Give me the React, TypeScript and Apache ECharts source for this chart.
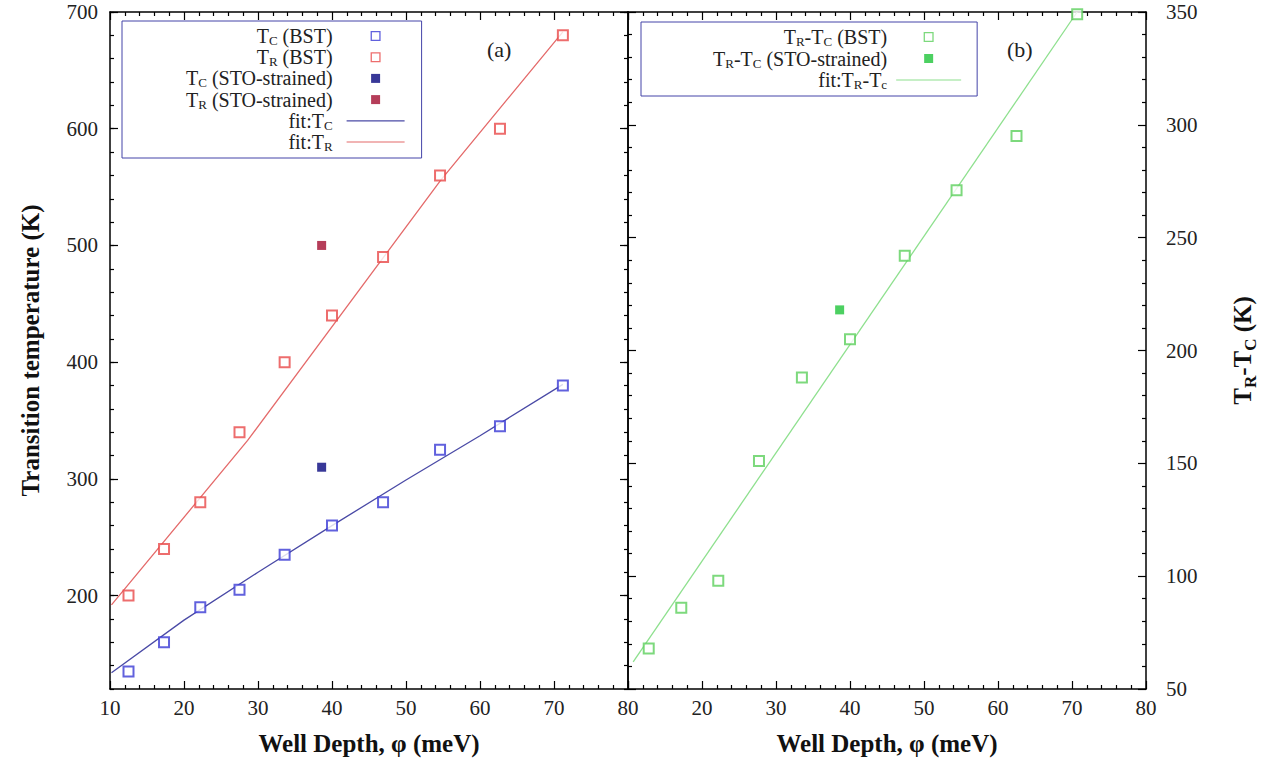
import React, { useEffect, useRef } from 'react';
import * as echarts from 'echarts';

const FONT = '"Liberation Serif", "Times New Roman", serif';

// Panel (a) data
const xBST = [12.5, 17.3, 22.2, 27.5, 33.6, 40.0, 46.9, 54.6, 62.7, 71.2];
const tcBST = [135, 160, 190, 205, 235, 260, 280, 325, 345, 380];
const trBST = [200, 240, 280, 340, 400, 440, 490, 560, 600, 680];
const xSTO = [38.6];
const tcSTO = [310];
const trSTO = [500];
const fitTcX = [10.2, 20, 30, 40, 50, 60, 71.2];
const fitTcY = [134, 179, 220, 260, 299, 337, 381];
const fitTrX = [10.2, 28.6, 54.7, 71.2];
const fitTrY = [192, 333, 556, 683];

// Panel (b) data
const xDiff = [12.8, 17.2, 22.2, 27.7, 33.5, 40.0, 47.4, 54.4, 62.5, 70.7];
const diffBST = [68, 86, 98, 151, 188, 205, 242, 271, 295, 349];
const xDiffSTO = [38.6];
const diffSTO = [218];
const fitDiffX = [10.7, 70.7];
const fitDiffY = [62, 350];

// Tick labels
const tempMajorTicks = [200, 300, 400, 500, 600, 700];

const zip = (xs: number[], ys: number[]) => xs.map((x, i) => [x, ys[i]]);

const sub = (s: string) =>
  s
    .split(/_(\w)/)
    .map((part, i) => (i % 2 ? `{s|${part}}` : part ? `{n|${part}}` : ''))
    .join('');

const legendRich = {
  n: { fontFamily: FONT, fontSize: 20, color: '#222', lineHeight: 20, verticalAlign: 'top' as const },
  s: { fontFamily: FONT, fontSize: 13, color: '#222', lineHeight: 13, padding: [8, 0, 0, 0], verticalAlign: 'top' as const },
};
const titleRich = {
  n: { fontFamily: FONT, fontSize: 25, fontWeight: 'bold' as const, color: '#111', lineHeight: 25, verticalAlign: 'top' as const },
  s: { fontFamily: FONT, fontSize: 17, fontWeight: 'bold' as const, color: '#111', lineHeight: 17, padding: [12, 0, 0, 0], verticalAlign: 'top' as const },
};

// legend icons (hollow square, filled square, line), padded to the icon box width
const hollowIcon = (w: number) => {
  const a = (w - 10) / 2;
  return `path://M${-a},0L${-a},0M${10 + a},10L${10 + a},10M0,0H10V10H0ZM1.3,1.3V8.7H8.7V1.3Z`;
};
const filledIcon = (w: number) => {
  const a = (w - 10) / 2;
  return `path://M${-a},0L${-a},0M${10 + a},10L${10 + a},10M0.5,0.5H9.5V9.5H0.5Z`;
};
const lineIcon = (w: number) => `path://M0,0L0,0M${w},10L${w},10M0,4.4H${w}V5.6H0Z`;

const BLACK = '#000';
const labelStyle = { fontFamily: FONT, fontSize: 21, color: '#222' };
const axisNameStyle = { fontFamily: FONT, fontSize: 25, fontWeight: 'bold' as const, color: '#111' };

export default function App() {
  const ref = useRef<HTMLDivElement>(null);
  useEffect(() => {
    if (!ref.current) return;
    const chart = echarts.init(ref.current, null, { renderer: 'svg' });
    const tick = { show: true, inside: true, length: 8, lineStyle: { color: BLACK, width: 1.2 } };
    const minor = { show: true, splitNumber: 5, length: 4, lineStyle: { color: BLACK, width: 1.2 } };
    const xBase = (gridIndex: number, showLabels: boolean, hideFirst: boolean) => ({
      type: 'value',
      gridIndex,
      min: 10,
      max: 80,
      interval: 10,
      position: 'bottom',
      splitLine: { show: false },
      axisLine: { show: true, onZero: false, lineStyle: { color: BLACK, width: 1.5 } },
      axisTick: tick,
      minorTick: minor,
      axisLabel: {
        show: showLabels,
        ...labelStyle,
        margin: 8,
        formatter: (v: number) => (hideFirst && v === 10 ? '' : String(v)),
      },
      name: showLabels ? 'Well Depth, φ (meV)' : '',
      nameLocation: 'middle',
      nameGap: 42,
      nameTextStyle: axisNameStyle,
    });
    const xTop = (gridIndex: number) => ({
      ...xBase(gridIndex, false, false),
      position: 'top',
      name: '',
    });
    const tempAxis = (position: string, major: boolean, labels: boolean) => ({
      type: 'value',
      gridIndex: 0,
      min: 120,
      max: 700,
      ...(major ? {} : { interval: 20 }),
      position,
      splitLine: { show: false },
      axisLine: major ? { show: true, onZero: false, lineStyle: { color: BLACK, width: 1.5 } } : { show: false },
      axisTick: major ? { ...tick, customValues: tempMajorTicks } : { ...tick, length: 4 },
      axisLabel: labels ? { ...labelStyle, margin: 12, customValues: tempMajorTicks } : { show: false },
      ...(labels
        ? { name: 'Transition temperature (K)', nameLocation: 'middle', nameGap: 67, nameTextStyle: axisNameStyle }
        : {}),
    });
    const diffAxis = (position: string, labels: boolean) => ({
      type: 'value',
      gridIndex: 1,
      min: 50,
      max: 350,
      interval: 50,
      position,
      splitLine: { show: false },
      axisLine: { show: true, onZero: false, lineStyle: { color: BLACK, width: 1.5 } },
      axisTick: tick,
      minorTick: minor,
      axisLabel: labels ? { ...labelStyle, margin: 20 } : { show: false },
      ...(labels
        ? {
            name: sub('T_R-T_C (K)'),
            nameLocation: 'middle',
            nameGap: 84,
            nameRotate: 90,
            nameTextStyle: { ...axisNameStyle, rich: titleRich },
          }
        : {}),
    });

    const legendCommon = {
      orient: 'vertical',
      align: 'right',
      itemHeight: 10,
      borderColor: '#4444a8',
      borderWidth: 1,
      selectedMode: false,
      itemStyle: { borderWidth: 0 },
      formatter: (name: string) => sub(name),
    };

    const option: any = {
      animation: false,
      backgroundColor: '#fff',
      title: [
        { text: '(a)', left: 482, top: 33, textStyle: { fontFamily: FONT, fontSize: 22, fontWeight: 'normal', color: '#222' } },
        { text: '(b)', left: 1002, top: 33, textStyle: { fontFamily: FONT, fontSize: 22, fontWeight: 'normal', color: '#222' } },
      ],
      grid: [
        { left: 110, right: 633, top: 12, bottom: 74, show: false },
        { left: 628, right: 115, top: 12, bottom: 74, show: false },
      ],
      xAxis: [xBase(0, true, false), xTop(0), xBase(1, true, true), xTop(1)],
      yAxis: [
        tempAxis('left', true, true),
        tempAxis('left', false, false),
        tempAxis('right', true, false),
        tempAxis('right', false, false),
        diffAxis('left', false),
        diffAxis('right', true),
      ],
      legend: [
        {
          ...legendCommon,
          left: 122,
          top: 21,
          padding: [5, 17, 5, 64],
          itemGap: 0.2,
          itemWidth: 58,
          textStyle: { fontFamily: FONT, fontSize: 20, color: '#222', padding: [0, 9, 0, 0], rich: legendRich },
          data: [
            { name: 'T_C (BST)', icon: hollowIcon(58) },
            { name: 'T_R (BST)', icon: hollowIcon(58) },
            { name: 'T_C (STO-strained)', icon: filledIcon(58) },
            { name: 'T_R (STO-strained)', icon: filledIcon(58) },
            { name: 'fit:T_C', icon: lineIcon(58) },
            { name: 'fit:T_R', icon: lineIcon(58) },
          ],
        },
        {
          ...legendCommon,
          left: 641,
          top: 22,
          padding: [5, 16, 5, 72],
          itemGap: 0.5,
          itemWidth: 65,
          textStyle: { fontFamily: FONT, fontSize: 20, color: '#222', padding: [0, 4, 0, 0], rich: legendRich },
          data: [
            { name: 'T_R-T_C (BST)', icon: hollowIcon(65) },
            { name: 'T_R-T_C (STO-strained)', icon: filledIcon(65) },
            { name: 'fit:T_R-T_c', icon: lineIcon(65) },
          ],
        },
      ],
      series: [
        {
          name: 'T_C (BST)',
          type: 'scatter',
          xAxisIndex: 0,
          yAxisIndex: 0,
          symbol: 'emptyRect',
          symbolSize: 10,
          itemStyle: { color: '#3a3ad4', borderWidth: 1.2 },
          data: zip(xBST, tcBST),
          z: 5,
        },
        {
          name: 'T_R (BST)',
          type: 'scatter',
          xAxisIndex: 0,
          yAxisIndex: 0,
          symbol: 'emptyRect',
          symbolSize: 10,
          itemStyle: { color: '#e84848', borderWidth: 1.2 },
          data: zip(xBST, trBST),
          z: 5,
        },
        {
          name: 'T_C (STO-strained)',
          type: 'scatter',
          xAxisIndex: 0,
          yAxisIndex: 0,
          symbol: 'rect',
          symbolSize: 9,
          itemStyle: { color: '#06067e' },
          data: zip(xSTO, tcSTO),
          z: 5,
        },
        {
          name: 'T_R (STO-strained)',
          type: 'scatter',
          xAxisIndex: 0,
          yAxisIndex: 0,
          symbol: 'rect',
          symbolSize: 9,
          itemStyle: { color: '#a30c30' },
          data: zip(xSTO, trSTO),
          z: 5,
        },
        {
          name: 'fit:T_C',
          type: 'line',
          xAxisIndex: 0,
          yAxisIndex: 0,
          symbol: 'none',
          showSymbol: false,
          itemStyle: { color: '#4a4aa6' },
          lineStyle: { color: '#4a4aa6', width: 1.3 },
          data: zip(fitTcX, fitTcY),
        },
        {
          name: 'fit:T_R',
          type: 'line',
          xAxisIndex: 0,
          yAxisIndex: 0,
          symbol: 'none',
          showSymbol: false,
          itemStyle: { color: '#e46a6a' },
          lineStyle: { color: '#e46a6a', width: 1.3 },
          data: zip(fitTrX, fitTrY),
        },
        {
          name: 'T_R-T_C (BST)',
          type: 'scatter',
          xAxisIndex: 2,
          yAxisIndex: 5,
          symbol: 'emptyRect',
          symbolSize: 10,
          itemStyle: { color: '#5ccf5c', borderWidth: 1.2 },
          data: zip(xDiff, diffBST),
          z: 5,
        },
        {
          name: 'T_R-T_C (STO-strained)',
          type: 'scatter',
          xAxisIndex: 2,
          yAxisIndex: 5,
          symbol: 'rect',
          symbolSize: 9,
          itemStyle: { color: '#1fc43a' },
          data: zip(xDiffSTO, diffSTO),
          z: 5,
        },
        {
          name: 'fit:T_R-T_c',
          type: 'line',
          xAxisIndex: 2,
          yAxisIndex: 5,
          symbol: 'none',
          showSymbol: false,
          itemStyle: { color: '#8ee08e' },
          lineStyle: { color: '#8ee08e', width: 1.3 },
          data: zip(fitDiffX, fitDiffY),
        },
      ],
    };
    chart.setOption(option);
    return () => chart.dispose();
  }, []);
  return <div ref={ref} style={{ position: 'absolute', left: 0, top: 0, width: 1261, height: 763 }} />;
}
